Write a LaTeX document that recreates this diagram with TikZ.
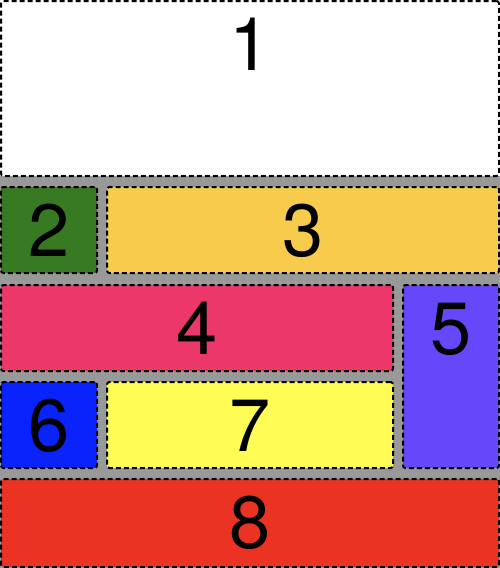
\documentclass[tikz,border=0pt]{standalone}
\usepackage{fontspec}
\setmainfont{TeX Gyre Heros}
\usepackage{tikz}
\usetikzlibrary{fit, positioning}
\definecolor{gridgray}{RGB}{153,153,153}
\definecolor{cgreen}{RGB}{55,122,33}
\definecolor{corange}{RGB}{247,204,77}
\definecolor{cpink}{RGB}{235,55,105}
\definecolor{cpurple}{RGB}{103,71,250}
\definecolor{cblue}{RGB}{10,35,250}
\definecolor{cyellow}{RGB}{255,253,85}
\definecolor{cred}{RGB}{235,51,36}
\tikzset{
  %% Layout cell
  cell/.style={
    rectangle, rounded corners=2.5pt,
    draw=black, fill=#1,
    dash pattern=on 5pt off 3pt,
    line width=2pt, inner sep=0pt
  },
  cell/.default=white,
  %% Big number in a cell
  digit/.style={
    anchor=base, inner sep=0pt,
    font=\fontsize{74}{74}\selectfont
  },
}
\begin{document}
\begin{tikzpicture}[x=1pt, y=-1pt]
  \useasboundingbox (0,0) rectangle (500,568);
  \fill[gridgray] (0,176) rectangle (500,568);
  \foreach \n/\xa/\ya/\xb/\yb/\col in {
      1/1/1/499/176/white,
      2/1/187/97/273/cgreen,
      3/107/187/499/273/corange,
      4/1/285/393/371/cpink,
      5/403/285/499/468/cpurple,
      6/1/382/97/468/cblue,
      7/107/382/393/468/cyellow,
      8/1/479/499/567/cred}
  {
    \node[cell=\col, fit={(\xa,\ya) (\xb,\yb)}] (c\n) {};
    \node[digit] (d\n) at ([yshift=-70pt]c\n.north) {\n};
  }
\end{tikzpicture}
\end{document}
